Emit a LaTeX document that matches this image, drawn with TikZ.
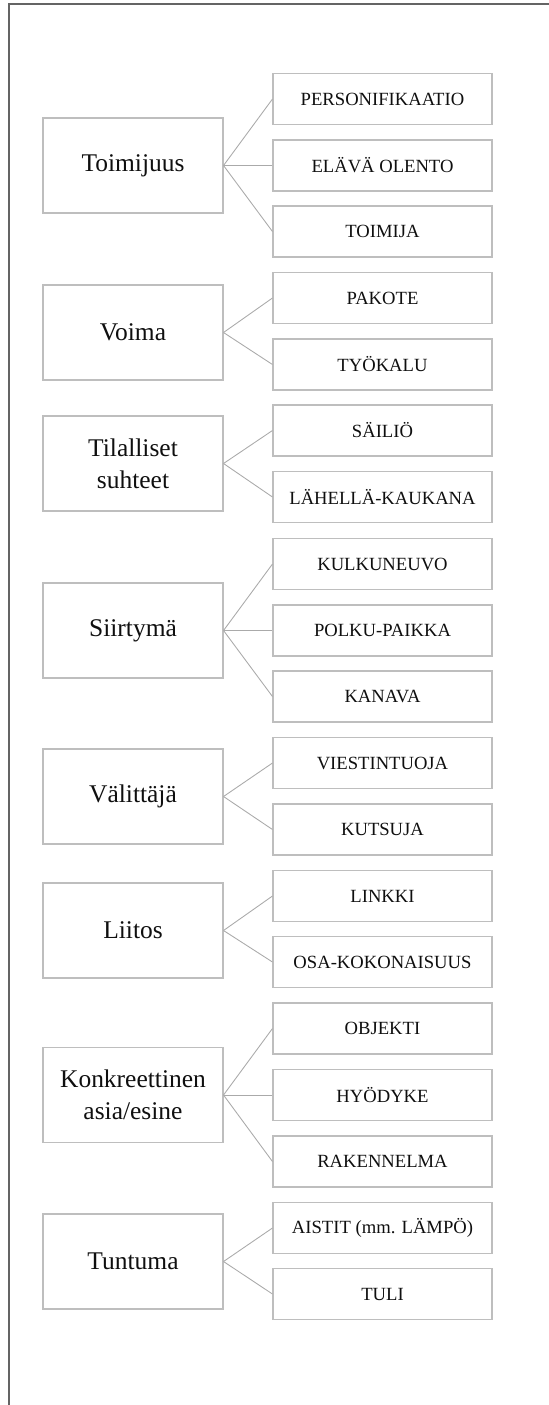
\documentclass[tikz,border=0pt]{standalone}
\usepackage{fontspec}
\setmainfont{Liberation Serif}
\usepackage{tikz}
\usetikzlibrary{positioning}
\definecolor{boxgrey}{RGB}{190,190,190}
\definecolor{linegrey}{RGB}{170,170,170}
\definecolor{framegrey}{RGB}{100,100,100}
\definecolor{textdark}{RGB}{15,15,15}

\begin{document}
\begin{tikzpicture}[
    mainbox/.style={rectangle, draw=boxgrey, line width=0.6pt, text=textdark,
                   minimum width=3.6cm, minimum height=1.9cm, align=center,
                   font=\fontsize{14.5}{18}\selectfont, inner sep=2pt},
    subbox/.style={rectangle, draw=boxgrey, line width=0.6pt, text=textdark,
                minimum width=4.38cm, minimum height=1.02cm, align=center,
                font=\fontsize{10.6}{12}\selectfont, inner sep=2pt},
    branch/.style={draw=linegrey, line width=0.5pt}
]
    \useasboundingbox (0,0) rectangle (10.96,-28.1);
    \draw[framegrey, line width=1.4pt] (0.18,-28.2) |- (11.1,-0.08);

    % Toimijuus
    \node[mainbox] (toim) at (2.66,-3.31) {Toimijuus};
    \node[subbox] (pers) at (7.65,-1.98) {PERSONIFIKAATIO};
    \node[subbox] (elav) at (7.65,-3.31) {ELÄVÄ OLENTO};
    \node[subbox] (toja) at (7.65,-4.63) {TOIMIJA};
    \foreach \c in {pers,elav,toja} \draw[branch] (toim.east) -- (\c.west);

    % Voima
    \node[mainbox] (voim) at (2.66,-6.65) {Voima};
    \node[subbox] (pako) at (7.65,-5.96) {PAKOTE};
    \node[subbox] (tyok) at (7.65,-7.29) {TYÖKALU};
    \foreach \c in {pako,tyok} \draw[branch] (voim.east) -- (\c.west);

    % Tilalliset suhteet
    \node[mainbox] (tila) at (2.66,-9.27) {Tilalliset\\suhteet};
    \node[subbox] (sail) at (7.65,-8.61) {SÄILIÖ};
    \node[subbox] (lahe) at (7.65,-9.94) {LÄHELLÄ-KAUKANA};
    \foreach \c in {sail,lahe} \draw[branch] (tila.east) -- (\c.west);

    % Siirtymä
    \node[mainbox] (siir) at (2.66,-12.61) {Siirtymä};
    \node[subbox] (kulk) at (7.65,-11.28) {KULKUNEUVO};
    \node[subbox] (polk) at (7.65,-12.61) {POLKU-PAIKKA};
    \node[subbox] (kana) at (7.65,-13.93) {KANAVA};
    \foreach \c in {kulk,polk,kana} \draw[branch] (siir.east) -- (\c.west);

    % Välittäjä
    \node[mainbox] (vali) at (2.66,-15.93) {Välittäjä};
    \node[subbox] (vies) at (7.65,-15.26) {VIESTINTUOJA};
    \node[subbox] (kuts) at (7.65,-16.59) {KUTSUJA};
    \foreach \c in {vies,kuts} \draw[branch] (vali.east) -- (\c.west);

    % Liitos
    \node[mainbox] (liit) at (2.66,-18.61) {Liitos};
    \node[subbox] (linkki) at (7.65,-17.92) {LINKKI};
    \node[subbox] (osak) at (7.65,-19.24) {OSA-KOKONAISUUS};
    \foreach \c in {linkki,osak} \draw[branch] (liit.east) -- (\c.west);

    % Konkreettinen asia/esine
    \node[mainbox] (konk) at (2.66,-21.9) {Konkreettinen\\asia/esine};
    \node[subbox] (obje) at (7.65,-20.57) {OBJEKTI};
    \node[subbox] (hyod) at (7.65,-21.9) {HYÖDYKE};
    \node[subbox] (rake) at (7.65,-23.23) {RAKENNELMA};
    \foreach \c in {obje,hyod,rake} \draw[branch] (konk.east) -- (\c.west);

    % Tuntuma
    \node[mainbox] (tunt) at (2.66,-25.23) {Tuntuma};
    \node[subbox] (aist) at (7.65,-24.56) {AISTIT (mm. LÄMPÖ)};
    \node[subbox] (tuli) at (7.65,-25.88) {TULI};
    \foreach \c in {aist,tuli} \draw[branch] (tunt.east) -- (\c.west);
\end{tikzpicture}
\end{document}
